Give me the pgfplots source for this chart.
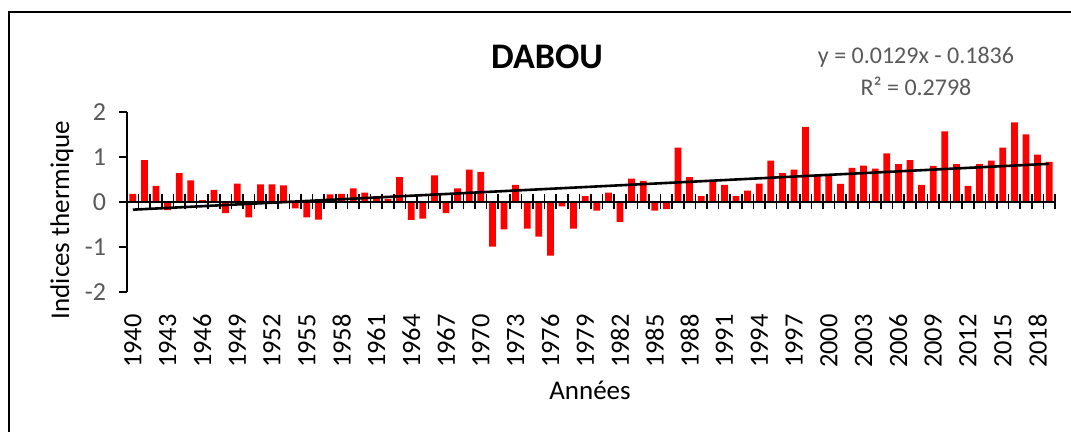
\documentclass[border=0pt]{standalone}
\usepackage{fontspec}
\setmainfont{Carlito}
\usepackage{pgfplots}
\usepackage{pgfplotstable}
\pgfplotsset{compat=1.18}
\definecolor{txtgrey}{HTML}{595959}
\pgfplotstableread{
i v
1 0.18
2 0.93
3 0.36
4 -0.18
5 0.64
6 0.48
7 0.04
8 0.27
9 -0.25
10 0.41
11 -0.34
12 0.39
13 0.39
14 0.37
15 -0.14
16 -0.34
17 -0.39
18 0.17
19 0.18
20 0.30
21 0.21
22 0.13
23 0.07
24 0.55
25 -0.40
26 -0.37
27 0.59
28 -0.25
29 0.30
30 0.72
31 0.67
32 -0.99
33 -0.61
34 0.38
35 -0.59
36 -0.77
37 -1.19
38 -0.10
39 -0.59
40 0.13
41 -0.19
42 0.21
43 -0.44
44 0.52
45 0.47
46 -0.19
47 -0.16
48 1.21
49 0.55
50 0.13
51 0.47
52 0.38
53 0.13
54 0.25
55 0.41
56 0.92
57 0.64
58 0.72
59 1.67
60 0.59
61 0.59
62 0.40
63 0.76
64 0.81
65 0.74
66 1.08
67 0.84
68 0.93
69 0.38
70 0.80
71 1.57
72 0.84
73 0.36
74 0.84
75 0.92
76 1.21
77 1.77
78 1.50
79 1.05
80 0.89
}\datatable
\begin{document}
\begin{tikzpicture}
\useasboundingbox (-63.5pt,-70pt) rectangle (472pt,146pt);
\draw[line width=0.75pt] (-59pt,-72pt) -- (-59pt,140pt) -- (474pt,140pt);
\begin{axis}[
  at={(0pt,0pt)}, anchor=south west,
  scale only axis, width=464pt, height=90pt,
  xmin=0.5, xmax=80.5, ymin=-2, ymax=2,
  axis y line*=left, axis x line*=bottom,
  x axis line style={draw=none},
  y axis line style={-, line width=0.75pt, black},
  xtick={1,4,...,79},
  xticklabels={1940,1943,1946,1949,1952,1955,1958,1961,1964,1967,1970,1973,1976,1979,1982,1985,1988,1991,1994,1997,2000,2003,2006,2009,2012,2015,2018},
  ytick={-2,-1,0,1,2},
  tick align=outside, major tick length=4pt,
  xtick style={draw=none},
  ytick style={black, line width=0.75pt},
  xticklabel shift=7pt,
  yticklabel shift=3pt,
  xticklabel style={rotate=90, anchor=east, inner sep=0pt, font=\fontsize{13.2}{15}\selectfont, text=black},
  yticklabel style={font=\fontsize{13}{15}\selectfont, text=txtgrey},
  /pgf/number format/assume math mode=true,
]
\addplot[ybar, bar width=0.58, fill=red, draw=none] table[x=i,y=v]{\datatable};
\addplot[black, line width=1.3pt] coordinates {(1,-0.1707) (80,0.8484)};
\end{axis}
\begin{axis}[
  at={(0pt,0pt)}, anchor=south west,
  scale only axis, width=464pt, height=90pt,
  xmin=0.5, xmax=80.5, ymin=-2, ymax=2,
  axis x line=middle, axis y line=none,
  x axis line style={-, line width=1pt, black},
  xtick={0.5,1.5,...,80.5}, xticklabels={},
  tick align=center, major tick length=7.5pt,
  xtick style={black, line width=0.75pt},
]
\end{axis}
\node[font=\bfseries\fontsize{18}{22}\selectfont] at (210pt,117.5pt) {DABOU};
\node[font=\fontsize{12}{14}\selectfont, text=txtgrey] at (394.5pt,117.5pt) {y = 0.0129x - 0.1836};
\node[font=\fontsize{12}{14}\selectfont, text=txtgrey] at (394.5pt,103pt) {R² = 0.2798};
\node[rotate=90, font=\fontsize{13.5}{16}\selectfont] at (-32.5pt,36pt) {Indices thermique};
\node[font=\fontsize{13.5}{16}\selectfont] at (231.5pt,-49pt) {Années};
\end{tikzpicture}
\end{document}
